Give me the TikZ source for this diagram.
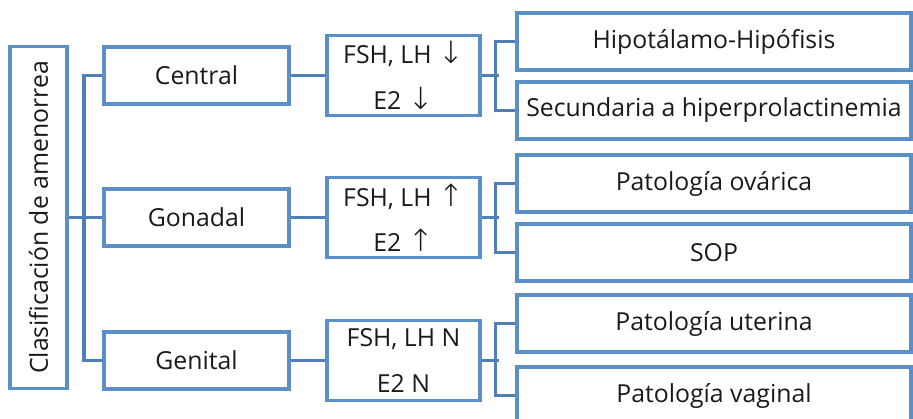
\documentclass[tikz,border=0pt]{standalone}
\usepackage{fontspec}
\setmainfont{Open Sans}
\newfontfamily\arrowfont{DejaVu Sans ExtraLight}
\definecolor{boxblue}{HTML}{5B8FC7}
\definecolor{linkblue}{HTML}{4F7FB5}
\definecolor{txt}{HTML}{1A1A1A}
\newcommand{\dnarr}{{\arrowfont\fontsize{23}{23}\selectfont ↓}}
\newcommand{\uparr}{{\arrowfont\fontsize{23}{23}\selectfont ↑}}
\begin{document}
\begin{tikzpicture}[x=0.75pt,y=-0.75pt,
  box/.style={draw=boxblue,line width=2.4pt,fill=white,text=txt,inner sep=0pt,font=\fontsize{18.6}{22}\selectfont},
  hbox/.style={box,minimum width=153*0.75pt,minimum height=80*0.75pt,align=center,font=\fontsize{18.6}{34}\selectfont},
  rbox/.style={box,minimum width=394*0.75pt,minimum height=57*0.75pt},
  lbox/.style={box,minimum width=185*0.75pt,minimum height=57*0.75pt},
  link/.style={draw=linkblue,line width=2.4pt}]
\useasboundingbox (0,0) rectangle (913,418);
\begin{scope}
\clip (0,0) rectangle (913,418);
\node[box,minimum width=57*0.75pt,minimum height=342*0.75pt] (root) at (38.5,217.5) {};
\node[rotate=90,text=txt,font=\fontsize{18.6}{22}\selectfont] (roottxt) at (root.center) {Clasificación de amenorrea};
\node[lbox] (central) at (196.5,75.5) {Central};
\node[lbox] (gonadal) at (196.5,217.5) {Gonadal};
\node[lbox] (genital) at (196.5,360.5) {Genital};
\node[hbox] (h1) at (403.5,75.5) {FSH, LH \dnarr\\E2 \dnarr};
\node[hbox] (h2) at (403.5,217.5) {FSH, LH \uparr\\E2 \uparr};
\node[hbox] (h3) at (403.5,360.5) {FSH, LH N\\E2 N};
\node[rbox] (r1) at (714,41.5) {Hipotálamo-Hipófisis};
\node[rbox] (r2) at (714,110.5) {Secundaria a hiperprolactinemia};
\node[rbox] (r3) at (714,183.5) {Patología ovárica};
\node[rbox] (r4) at (714,252.5) {SOP};
\node[rbox] (r5) at (714,323.5) {Patología uterina};
\node[rbox] (r6) at (714,395.5) {Patología vaginal};
\draw[link] (root.east) -- ++(18.5,0);
\draw[link] (central.west) -- ++(-18.5,0) |- (genital.west);
\draw[link] (gonadal.west) -- ++(-18.5,0);
\draw[link] (central.east) -- (h1.west);
\draw[link] (gonadal.east) -- (h2.west);
\draw[link] (genital.east) -- (h3.west);
\draw[link] (h1.east) -- ++(17,0);
\draw[link] (h2.east) -- ++(17,0);
\draw[link] (h3.east) -- ++(17,0);
\draw[link] (r1.west) -- ++(-20,0) |- (r2.west);
\draw[link] (r3.west) -- ++(-20,0) |- (r4.west);
\draw[link] (r5.west) -- ++(-20,0) |- (r6.west);
\end{scope}
\end{tikzpicture}
\end{document}
